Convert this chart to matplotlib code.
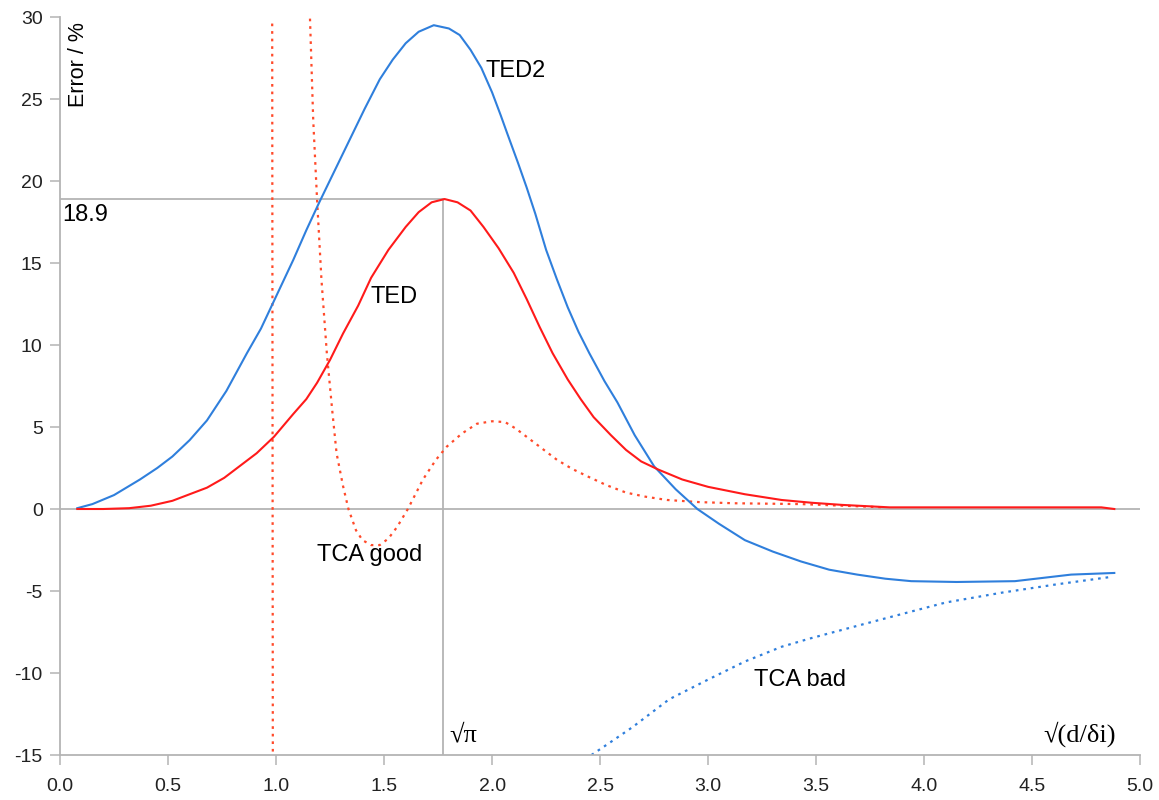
import numpy as np
import matplotlib
matplotlib.use("Agg")
import matplotlib.pyplot as plt

# Curve readings (x = sqrt(d/delta_i), y = error in %)
ted2_x = [0.08, 0.15, 0.25, 0.37, 0.45, 0.52, 0.60, 0.68, 0.77, 0.865, 0.93, 0.98, 1.03, 1.08,
          1.14, 1.20, 1.27, 1.34, 1.41, 1.48, 1.54, 1.60, 1.66, 1.73, 1.80, 1.85, 1.90, 1.95,
          2.00, 2.04, 2.07, 2.12, 2.16, 2.20, 2.25, 2.30, 2.35, 2.40, 2.45, 2.52, 2.58, 2.66,
          2.75, 2.85, 2.95, 3.05, 3.17, 3.30, 3.43, 3.56, 3.69, 3.82, 3.94, 4.15, 4.42, 4.55,
          4.68, 4.88]
ted2_y = [0.05, 0.3, 0.85, 1.8, 2.5, 3.2, 4.2, 5.4, 7.2, 9.5, 11.0, 12.4, 13.8, 15.2,
          17.0, 18.7, 20.6, 22.5, 24.4, 26.2, 27.4, 28.4, 29.1, 29.5, 29.3, 28.9, 28.0, 26.9,
          25.4, 24.0, 22.9, 21.1, 19.6, 18.0, 15.8, 14.0, 12.3, 10.8, 9.5, 7.8, 6.5, 4.5,
          2.6, 1.2, 0.0, -0.9, -1.9, -2.6, -3.2, -3.7, -4.0, -4.25, -4.4, -4.45, -4.4, -4.2,
          -4.0, -3.9]

ted_x = [0.08, 0.20, 0.32, 0.42, 0.52, 0.60, 0.68, 0.76, 0.83, 0.91, 0.99, 1.08, 1.14, 1.19,
         1.25, 1.31, 1.38, 1.44, 1.52, 1.60, 1.66, 1.72, 1.78, 1.84, 1.90, 1.96, 2.03, 2.10,
         2.16, 2.22, 2.28, 2.35, 2.41, 2.47, 2.55, 2.62, 2.69, 2.77, 2.88, 3.0, 3.17, 3.34,
         3.48, 3.62, 3.84, 4.82, 4.88]
ted_y = [0.0, 0.0, 0.05, 0.2, 0.5, 0.9, 1.3, 1.9, 2.6, 3.4, 4.4, 5.8, 6.7, 7.7,
         9.1, 10.7, 12.4, 14.1, 15.8, 17.2, 18.1, 18.7, 18.9, 18.7, 18.2, 17.2, 15.9, 14.4,
         12.8, 11.1, 9.5, 7.9, 6.7, 5.6, 4.5, 3.6, 2.9, 2.4, 1.8, 1.35, 0.9, 0.55,
         0.38, 0.25, 0.1, 0.1, 0.0]

tca_good_x = [1.157, 1.172, 1.19, 1.21, 1.235, 1.26, 1.28, 1.31, 1.335, 1.37, 1.40, 1.44, 1.48,
              1.52, 1.56, 1.61, 1.68, 1.74, 1.79, 1.86, 1.93, 2.0, 2.06, 2.11, 2.16, 2.23,
              2.30, 2.37, 2.44, 2.53, 2.62, 2.71, 2.81, 2.96, 3.12, 3.43, 3.82]
tca_good_y = [29.9, 23.7, 18.8, 14.0, 9.5, 6.0, 3.4, 1.4, 0.0, -1.3, -1.9, -2.2, -2.2,
              -1.8, -1.1, 0.0, 1.8, 3.0, 3.8, 4.6, 5.2, 5.35, 5.3, 4.9, 4.4, 3.7,
              3.0, 2.45, 2.0, 1.45, 1.0, 0.75, 0.55, 0.42, 0.35, 0.3, 0.1]
# other branch of TCA good (pole near x = 1)
tca_pole_x = [0.982, 0.985]
tca_pole_y = [29.6, -15.0]

tca_bad_x = [2.46, 2.55, 2.65, 2.74, 2.82, 2.91, 3.0, 3.17, 3.34, 3.47, 3.64, 3.84, 4.10,
             4.36, 4.61, 4.86]
tca_bad_y = [-15.0, -14.2, -13.3, -12.4, -11.6, -11.0, -10.4, -9.3, -8.4, -7.9, -7.3, -6.6,
             -5.7, -5.1, -4.6, -4.15]

peak_x = np.sqrt(np.pi)
peak_y = 18.9

x_ticks = [0.0, 0.5, 1.0, 1.5, 2.0, 2.5, 3.0, 3.5, 4.0, 4.5, 5.0]
y_ticks = [-15, -10, -5, 0, 5, 10, 15, 20, 25, 30]

plt.rcParams['font.family'] = ['Liberation Sans', 'DejaVu Sans']

blue = '#2f7fdc'
red = '#ff1a1a'
orange = '#ff4a2a'
grey = '#b4b4b4'

fig = plt.figure(figsize=(11.59, 8.0), dpi=100)
ax = fig.add_axes([0.0518, 0.05625, 0.932, 0.9225])
ax.set_xlim(0, 5)
ax.set_ylim(-15, 30)

# guide lines
ax.plot([0, 5], [0, 0], color=grey, lw=1.3, zorder=1)
ax.plot([0, peak_x], [peak_y, peak_y], color=grey, lw=1.3, zorder=1)
ax.plot([peak_x, peak_x], [-15, peak_y], color=grey, lw=1.3, zorder=1)

dots = (0, (1.2, 2.2))
ax.plot(tca_pole_x, tca_pole_y, color=orange, lw=1.6, ls=dots, zorder=2)
ax.plot(tca_good_x, tca_good_y, color=orange, lw=1.6, ls=dots, zorder=2)
ax.plot(tca_bad_x, tca_bad_y, color=blue, lw=1.6, ls=dots, zorder=2)
ax.plot(ted2_x, ted2_y, color=blue, lw=1.5, zorder=3)
ax.plot(ted_x, ted_y, color=red, lw=1.5, zorder=3)

# labels
ax.text(1.97, 26.7, 'TED2', fontsize=17, va='center', ha='left')
ax.text(1.435, 12.9, 'TED', fontsize=17, va='center', ha='left')
ax.text(1.19, -2.8, 'TCA good', fontsize=17, va='center', ha='left')
ax.text(3.21, -10.4, 'TCA bad', fontsize=17, va='center', ha='left')
ax.text(0.01, 17.9, '18.9', fontsize=17, va='center', ha='left')
ax.text(0.035, 29.7, 'Error / %', fontsize=15.5, rotation=90, va='top', ha='left')
ax.text(1.80, -13.8, '√π', fontsize=19, va='center', ha='left',
        family=['Liberation Serif', 'DejaVu Serif'])
ax.text(4.55, -13.7, '√(d/δi)', fontsize=19, va='center', ha='left',
        family=['Liberation Serif', 'DejaVu Serif'])

# axes styling
for s in ['top', 'right']:
    ax.spines[s].set_visible(False)
for s in ['left', 'bottom']:
    ax.spines[s].set_color(grey)
    ax.spines[s].set_linewidth(1.3)
ax.set_xticks(x_ticks)
ax.set_yticks(y_ticks)
ax.set_xticklabels([f'{v:.1f}' for v in x_ticks])
ax.set_yticklabels([str(v) for v in y_ticks])
ax.tick_params(axis='both', direction='out', length=7.5, width=1.1, color=grey,
               labelsize=14, labelcolor='#222222')
ax.tick_params(axis='x', pad=9)
ax.tick_params(axis='y', pad=5)

fig.savefig('out.png', dpi=100)
